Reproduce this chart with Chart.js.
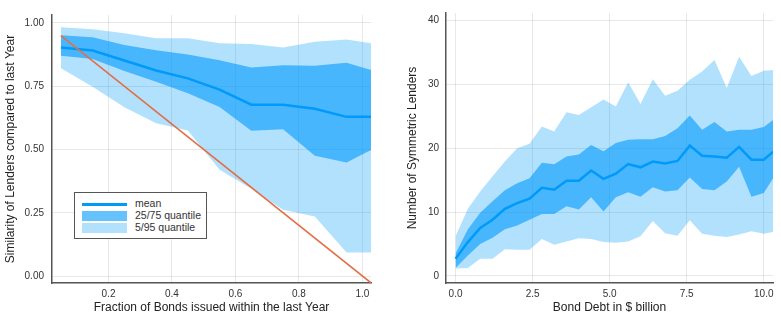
<!DOCTYPE html>
<html>
<head>
<meta charset="utf-8">
<script src="https://cdn.jsdelivr.net/npm/chart.js@4"></script>
<style>
  body { margin: 0; background: #fff; }
  #wrap { position: relative; width: 781px; height: 322px; }
  #left { position: absolute; left: 0; top: 0; }
  #right { position: absolute; left: 390px; top: 0; }
  .legend {
    position: absolute; left: 74px; top: 192px; width: 131px; height: 45px;
    border: 1px solid #555; background: #fff;
    font: 10.5px "Liberation Sans", Arial, sans-serif; color: #333;
  }
  .row { position: absolute; left: 0; height: 12px; width: 131px; }
  .sw { position: absolute; left: 7px; width: 45px; }
  .lbl { position: absolute; left: 60px; top: -1px; white-space: nowrap; }
</style>
</head>
<body>
<div id="wrap">
  <canvas id="left" width="390" height="322"></canvas>
  <canvas id="right" width="391" height="322"></canvas>
  <div class="legend">
    <div class="row" style="top:5px"><div class="sw" style="top:5px;height:3px;background:#009AFA"></div><div class="lbl">mean</div></div>
    <div class="row" style="top:17px"><div class="sw" style="top:1px;height:10px;background:rgba(0,154,250,0.6)"></div><div class="lbl">25/75 quantile</div></div>
    <div class="row" style="top:29px"><div class="sw" style="top:1px;height:10px;background:rgba(0,154,250,0.3)"></div><div class="lbl">5/95 quantile</div></div>
  </div>
</div>
<script>
// left panel: similarity vs fraction of new bonds
const leftX = [0.05, 0.15, 0.25, 0.35, 0.45, 0.55, 0.65, 0.75, 0.85, 0.95, 1.05];
const leftMean = [0.903, 0.891, 0.852, 0.812, 0.781, 0.737, 0.677, 0.677, 0.661, 0.629, 0.63];
const leftQ25 = [0.871, 0.858, 0.81, 0.768, 0.722, 0.668, 0.574, 0.58, 0.475, 0.449, 0.513];
const leftQ75 = [0.952, 0.944, 0.913, 0.892, 0.875, 0.853, 0.824, 0.833, 0.831, 0.843, 0.806];
const leftQ5 = [0.821, 0.748, 0.667, 0.604, 0.575, 0.42, 0.345, 0.262, 0.235, 0.093, 0.093];
const leftQ95 = [0.983, 0.975, 0.959, 0.94, 0.94, 0.92, 0.917, 0.903, 0.926, 0.935, 0.916];
const diagX = [0.05, 1.05];
const diagY = [0.95, -0.05];
const leftXTicks = [0.2, 0.4, 0.6, 0.8, 1.0];
const leftYTicks = [0, 0.25, 0.5, 0.75, 1.0];

// right panel: symmetric lenders vs bond debt
const rightX = [0, 0.4, 0.8, 1.2, 1.6, 2.0, 2.4, 2.8, 3.2, 3.6, 4.0, 4.4, 4.8, 5.2,
                5.6, 6.0, 6.4, 6.8, 7.2, 7.6, 8.0, 8.4, 8.8, 9.2, 9.6, 10.0, 10.4];
const rightMean = [2.7, 5.3, 7.5, 8.8, 10.5, 11.4, 12.1, 13.8, 13.5, 14.9, 14.9, 16.5, 15.2, 16.0,
                   17.5, 17.0, 17.9, 17.6, 18.0, 20.4, 18.8, 18.7, 18.5, 20.2, 18.2, 18.2, 19.8];
const rightQ25 = [1.25, 3.2, 5.0, 6.0, 7.3, 7.9, 8.8, 9.7, 9.7, 10.9, 10.4, 12.3, 10.1, 12.3,
                  13.1, 12.4, 13.9, 13.2, 13.4, 15.4, 13.6, 13.4, 14.8, 17.1, 12.4, 13.0, 16.0];
const rightQ75 = [3.5, 7.3, 9.9, 11.7, 13.4, 14.5, 15.3, 17.7, 17.5, 18.7, 19.0, 20.5, 19.5, 20.8,
                  21.3, 21.4, 21.4, 21.9, 23.1, 25.1, 22.9, 24.1, 22.6, 22.9, 22.9, 23.3, 24.8];
const rightQ5 = [1.15, 1.25, 2.7, 2.7, 4.2, 4.1, 4.1, 5.8, 4.9, 5.4, 5.9, 5.8, 5.3, 5.2,
                 5.4, 6.2, 8.6, 6.7, 6.3, 8.7, 6.6, 6.3, 6.1, 6.5, 7.0, 6.6, 7.0];
const rightQ95 = [6.2, 10.5, 13.2, 15.6, 17.9, 20.0, 20.7, 23.4, 22.6, 25.6, 25.2, 26.4, 27.6, 26.5,
                  30.3, 26.9, 30.8, 28.2, 29.0, 30.7, 32.0, 33.8, 29.4, 34.3, 31.3, 32.1, 32.3];
const rightXTicks = [0, 2.5, 5, 7.5, 10];
const rightYTicks = [0, 10, 20, 30, 40];

const blue = '#009AFA';
const FONT = '"Liberation Sans", Arial, sans-serif';

const pts = (xs, ys) => xs.map((x, i) => ({ x: x, y: ys[i] }));

function bandSets(x, mean, q25, q75, q5, q95) {
    const base = { pointRadius: 0, tension: 0, borderWidth: 0 };
    return [
        { ...base, data: pts(x, mean), borderColor: blue, borderWidth: 2.5, fill: false },
        { ...base, data: pts(x, q75), fill: '+1', backgroundColor: 'rgba(0,154,250,0.6)' },
        { ...base, data: pts(x, q25), fill: false },
        { ...base, data: pts(x, q95), fill: '+1', backgroundColor: 'rgba(0,154,250,0.3)' },
        { ...base, data: pts(x, q5), fill: false },
    ];
}

function axis(opts) {
    return {
        type: 'linear',
        min: opts.min,
        max: opts.max,
        afterBuildTicks: s => { s.ticks = opts.ticks.map(v => ({ value: v })); },
        afterFit: s => {
            if (s.isHorizontal()) s.height = opts.size; else s.width = opts.size;
        },
        grid: { color: 'rgba(0,0,0,0.09)', drawTicks: false },
        border: { color: '#555', width: 1.5 },
        ticks: {
            padding: opts.pad,
            color: '#333',
            font: { family: FONT, size: 10 },
            callback: v => Number(v).toFixed(opts.digits),
        },
        title: {
            display: true,
            text: opts.title,
            color: '#222',
            font: { family: FONT, size: 12 },
            padding: opts.titlePad,
        },
    };
}

function baseOptions(padding, xAxis, yAxis) {
    return {
        responsive: false,
        animation: false,
        layout: { padding: padding, autoPadding: false },
        plugins: { legend: { display: false }, tooltip: { enabled: false } },
        scales: { x: xAxis, y: yAxis },
    };
}

new Chart(document.getElementById('left'), {
    type: 'line',
    data: {
        datasets: [
            { data: pts(diagX, diagY), borderColor: '#E36F47', borderWidth: 1.6,
              pointRadius: 0, tension: 0, fill: false },
            ...bandSets(leftX, leftMean, leftQ25, leftQ75, leftQ5, leftQ95),
        ],
    },
    options: baseOptions(
        { left: 0, right: 19, top: 15, bottom: 0 },
        axis({ min: 0.022, max: 1.027, ticks: leftXTicks, size: 39, pad: 5, digits: 1,
               title: 'Fraction of Bonds issued within the last Year', titlePad: { top: 0, bottom: 7 } }),
        axis({ min: -0.0276, max: 1.0316, ticks: leftYTicks, size: 52, pad: 8, digits: 2,
               title: 'Similarity of Lenders compared to last Year', titlePad: { top: 3, bottom: 0 } })
    ),
});

new Chart(document.getElementById('right'), {
    type: 'line',
    data: { datasets: bandSets(rightX, rightMean, rightQ25, rightQ75, rightQ5, rightQ95) },
    options: baseOptions(
        { left: 0, right: 8, top: 13, bottom: 0 },
        axis({ min: -0.31, max: 10.3, ticks: rightXTicks, size: 39, pad: 5, digits: 1,
               title: 'Bond Debt in $ billion', titlePad: { top: 0, bottom: 7 } }),
        axis({ min: -1.1, max: 41.15, ticks: rightYTicks, size: 56, pad: 7, digits: 0,
               title: 'Number of Symmetric Lenders', titlePad: { top: 15, bottom: 0 } })
    ),
});
</script>
</body>
</html>
